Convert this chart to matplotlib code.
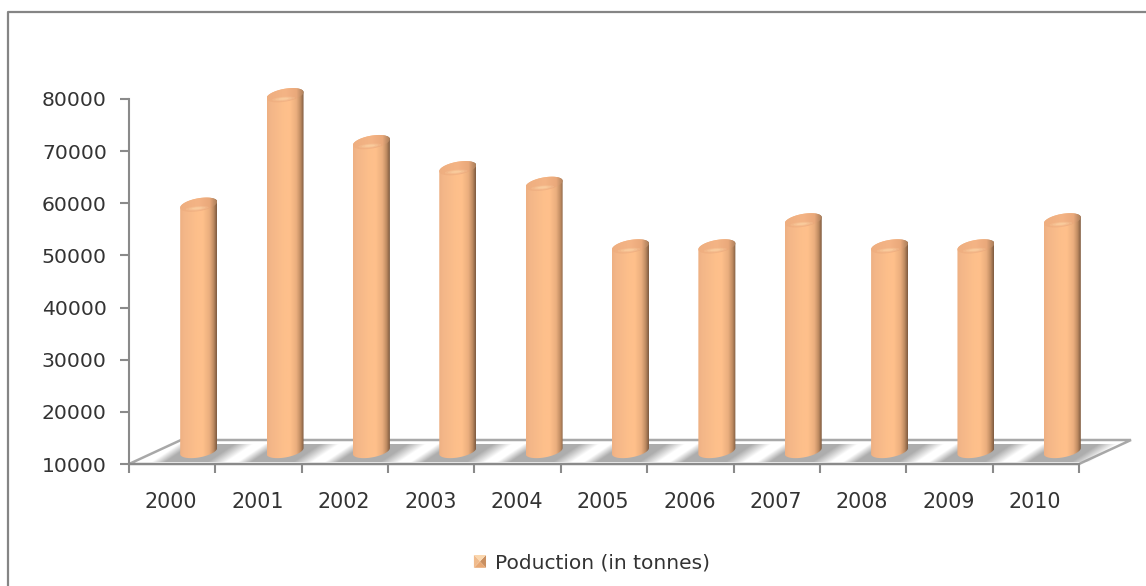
import numpy as np
import matplotlib
matplotlib.use("Agg")
import matplotlib.pyplot as plt
from matplotlib.patches import Polygon, PathPatch, Patch, Ellipse
from matplotlib.path import Path
from matplotlib.lines import Line2D
from matplotlib.legend_handler import HandlerBase
from matplotlib.colors import LinearSegmentedColormap
from matplotlib.transforms import Affine2D

years = ["2000", "2001", "2002", "2003", "2004", "2005", "2006", "2007", "2008", "2009", "2010"]
production = [58000, 79000, 70000, 65000, 62000, 50000, 50000, 55000, 50000, 50000, 55000]
y_ticks = [10000, 20000, 30000, 40000, 50000, 60000, 70000, 80000]
series_name = "Poduction (in tonnes)"

W, H = 1146, 586
GREY = "#8a8a8a"
TXT = "#333333"
plt.rcParams["font.family"] = ["DejaVu Sans"]

fig = plt.figure(figsize=(W / 100, H / 100), dpi=100, facecolor="white")
L, R, T, B = 129, 1079, 99, 464
ax = fig.add_axes([L / W, 1 - B / H, (R - L) / W, (B - T) / H])
ax.patch.set_alpha(0)
PX = len(years) / (R - L)
PY = (y_ticks[-1] - y_ticks[0]) / (B - T)

fig.add_artist(Line2D([8 / W, 8 / W, 1], [0, 1 - 11.5 / H, 1 - 11.5 / H], color="#858585", lw=1.6))

for s in ["top", "right"]:
    ax.spines[s].set_visible(False)
for s in ["left", "bottom"]:
    ax.spines[s].set_color(GREY)
    ax.spines[s].set_linewidth(1.5)
ax.set_yticks(y_ticks)
ax.set_yticklabels([str(v) for v in y_ticks], fontsize=14.7, color=TXT)
ax.set_xticks(np.arange(len(years) + 1))
ax.set_xticklabels([""] * (len(years) + 1))
ax.tick_params(axis="both", color=GREY, width=1.5, length=6.5)
ax.tick_params(axis="y", pad=9.5)
for i, yr in enumerate(years):
    ax.annotate(yr, (i + 0.5, y_ticks[0]), xytext=(-1, -38), textcoords="offset pixels",
                ha="center", va="center", fontsize=14.9, color=TXT, annotation_clip=False)

# floor
DX, DY = 52, 24
y0 = y_ticks[0]
floor = [(0, y0), (len(years), y0),
         (len(years) + DX * PX, y0 + DY * PY), (DX * PX, y0 + DY * PY)]
ax.add_patch(Polygon(floor, closed=True, fc="white", ec="#a8a8a8", lw=1.8, clip_on=False, zorder=1))

# floor shadows: sheared gradient images
prof = np.linspace(0, 1, 64)
alpha_prof = np.clip(prof / 0.18, 0, 1) * np.clip((1 - prof) / 0.25, 0, 1) * 0.85
shadow = np.zeros((1, 64, 4))
shadow[..., :3] = 0.62
shadow[..., 3] = alpha_prof
for i in range(len(years)):
    m = Affine2D(np.array([[76 * PX, 27 * PX, i + 22 * PX],
                           [0, 18 * PY, y0 + 2 * PY],
                           [0, 0, 1]]))
    ax.imshow(shadow, extent=(0, 1, 0, 1), aspect="auto", interpolation="bilinear",
              transform=m + ax.transData, zorder=1.5, clip_on=False)

# cylinders
body_cmap = LinearSegmentedColormap.from_list("body", [
    (0.0, "#eeb083"), (0.10, "#f3b688"), (0.45, "#fdbf8b"), (0.62, "#ffc08b"),
    (0.80, "#eaae7e"), (0.91, "#c08c62"), (1.0, "#7d5b40")])
top_cmap = LinearSegmentedColormap.from_list("top", [
    (0.0, "#eeae80"), (0.5, "#f4b485"), (0.8, "#eaa97b"), (1.0, "#a87d5a")])
grad = np.linspace(0, 1, 128).reshape(1, -1)
HW, HH, TILT = 18.5, 6.5, 3.0
XOFF, BASE_OFF, TOP_OFF = 26.5, 13, 9


def ellipse(xc, yc, sx=1.0, sy=1.0, n=60, t0=0, t1=2 * np.pi):
    t = np.linspace(t0, t1, n)
    return np.column_stack([xc + PX * sx * HW * np.cos(t),
                            yc + PY * sy * (HH * np.sin(t) + TILT * np.cos(t))])


for i, v in enumerate(production):
    xc = i + 0.5 + XOFF * PX
    yb = y0 + BASE_OFF * PY
    yt = v + TOP_OFF * PY
    bar = ax.bar(xc, yt - yb, bottom=yb, width=2 * HW * PX, color="#f7ba8a", zorder=3, clip_on=False)
    bar[0].set_visible(False)
    lower = ellipse(xc, yb, t0=np.pi, t1=2 * np.pi)
    upper = ellipse(xc, yt, t0=0, t1=np.pi)
    verts = np.vstack([lower, upper, lower[:1]])
    im = ax.imshow(grad, cmap=body_cmap, aspect="auto", interpolation="bilinear", zorder=3,
                   extent=(xc - HW * PX, xc + HW * PX, yb - 10 * PY, yt + 10 * PY))
    clip = PathPatch(Path(verts, closed=True), transform=ax.transData, fc="none", ec="none")
    im.set_clip_path(clip)
    im.set_clip_box(fig.bbox)
    # top cap
    cap = ax.imshow(grad, cmap=top_cmap, aspect="auto", interpolation="bilinear", zorder=4,
                    extent=(xc - HW * PX, xc + HW * PX, yt - 10 * PY, yt + 10 * PY))
    cap_clip = PathPatch(Path(ellipse(xc, yt), closed=True), transform=ax.transData, fc="none", ec="none")
    cap.set_clip_path(cap_clip)
    cap.set_clip_box(fig.bbox)
    # soft highlight along the lower rim
    for sx, a in [(0.62, 0.18), (0.45, 0.25), (0.28, 0.35)]:
        ax.add_patch(Polygon(ellipse(xc - 1.5 * PX, yt - 3.6 * PY, sx, 0.32 * sx / 0.62), closed=True,
                             fc="#ffdcae", ec="none", alpha=a, zorder=4.2, clip_on=False))
ax.set_xlim(0, len(years))
ax.set_ylim(y_ticks[0], y_ticks[-1])


class PyramidHandler(HandlerBase):
    def create_artists(self, legend, orig, xd, yd, w, h, fontsize, trans):
        c = (w / 2 - xd, h / 2 - yd)
        x0, x1, y_0, y_1 = -xd, w - xd, -yd, h - yd
        corners = [(x0, y_0), (x1, y_0), (x1, y_1), (x0, y_1)]
        cols = ["#e8a873", "#c98f60", "#fbd7ae", "#f0bb8c"]
        return [Polygon([corners[k], corners[(k + 1) % 4], c], closed=True,
                        fc=cols[k], ec="none", transform=trans) for k in range(4)]


handle = Patch(fc="#f7ba8a", label=series_name)
fig.legend(handles=[handle], handler_map={Patch: PyramidHandler()}, loc="center",
           bbox_to_anchor=(592 / W, 1 - 563 / H), frameon=False, fontsize=14.5,
           handlelength=0.6, handleheight=0.6, handletextpad=0.45, labelcolor=TXT,
           borderpad=0, borderaxespad=0)

fig.savefig("out.png", dpi=100, facecolor="white")
